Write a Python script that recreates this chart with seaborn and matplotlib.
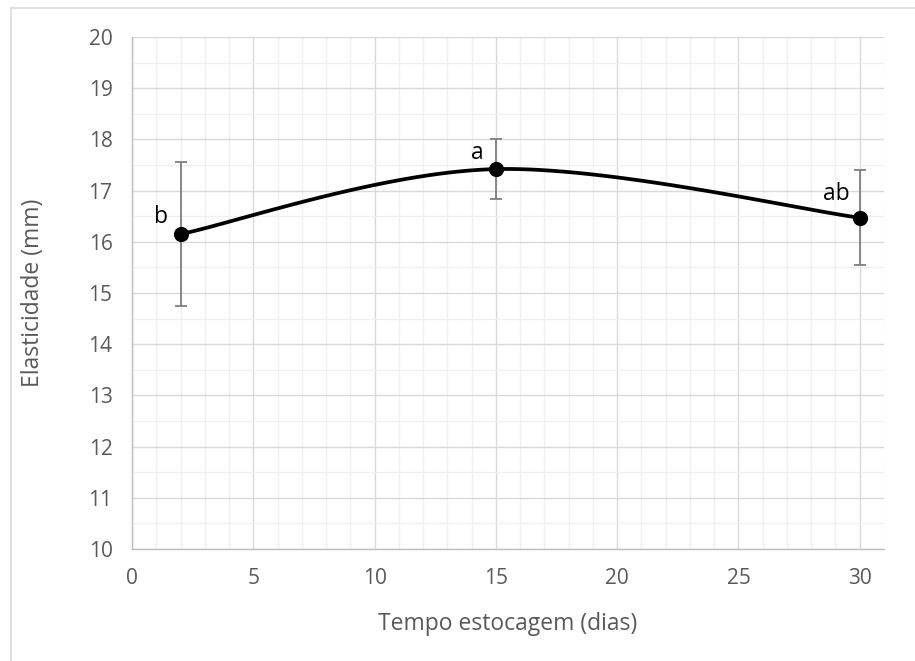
import numpy as np
import pandas as pd
import matplotlib
matplotlib.use("Agg")
import matplotlib.pyplot as plt
import seaborn as sns
from matplotlib.ticker import MultipleLocator
from matplotlib.lines import Line2D

# ---- data ----
days = [2, 15, 30]
elasticity = [16.15, 17.42, 16.47]
err_upper = [17.55, 18.01, 17.40]
err_lower = [14.75, 16.83, 15.55]
letters = ["b", "a", "ab"]
letter_offsets = [(-20, 17), (-19, 16), (-23, 24)]  # pixels

xlabel = "Tempo estocagem (dias)"
ylabel = "Elasticidade (mm)"

sns.set_theme(style="white")
plt.rcParams["font.family"] = ["Open Sans", "DejaVu Sans"]

fig = plt.figure(figsize=(9.15, 6.61), dpi=100)
ax = fig.add_axes([132/915, 1-549/661, (884-132)/915, (549-37)/661])

# Excel-style smoothed line (Catmull-Rom Bezier)
P = np.column_stack([days, elasticity]).astype(float)
n = len(P)
curve_x, curve_y = [], []
t = np.linspace(0, 1, 60)
for i in range(n - 1):
    p0 = P[max(i - 1, 0)]
    p1 = P[i]
    p2 = P[i + 1]
    p3 = P[min(i + 2, n - 1)]
    c1 = p1 + (p2 - p0) / 6
    c2 = p2 - (p3 - p1) / 6
    b = ((1 - t)**3)[:, None] * p1 + (3 * (1 - t)**2 * t)[:, None] * c1 \
        + (3 * (1 - t) * t**2)[:, None] * c2 + (t**3)[:, None] * p2
    curve_x.extend(b[:, 0])
    curve_y.extend(b[:, 1])
curve = pd.DataFrame({"x": curve_x, "y": curve_y})

df = pd.DataFrame({"dias": days, "elast": elasticity,
                   "lo": err_lower, "hi": err_upper})

yerr = np.array([df["elast"] - df["lo"], df["hi"] - df["elast"]])
ax.errorbar(df["dias"], df["elast"], yerr=yerr, fmt="none",
            ecolor="#7f7f7f", elinewidth=1.3, capsize=4.3, capthick=1.3, zorder=3)

sns.lineplot(data=curve, x="x", y="y", sort=False, color="black",
             linewidth=2.7, ax=ax, zorder=4)
sns.scatterplot(data=df, x="dias", y="elast", color="black", s=120,
                edgecolor="black", linewidth=0, ax=ax, zorder=5)

for xd, yd, lab, off in zip(days, elasticity, letters, letter_offsets):
    ax.annotate(lab, (xd, yd), xytext=off, textcoords="offset pixels",
                ha="center", va="center", fontsize=16.5, color="black")

ax.set_xlim(0, 31)
ax.set_ylim(10, 20)
ax.xaxis.set_major_locator(MultipleLocator(5))
ax.xaxis.set_minor_locator(MultipleLocator(1))
ax.yaxis.set_major_locator(MultipleLocator(1))
ax.yaxis.set_minor_locator(MultipleLocator(0.5))
ax.set_xticks([0, 5, 10, 15, 20, 25, 30])

ax.grid(which="major", color="#d9d9d9", linewidth=1.0)
ax.grid(which="minor", color="#f0f0f0", linewidth=1.0)
ax.set_axisbelow(True)

for s in ["top", "right"]:
    ax.spines[s].set_visible(False)
for s in ["left", "bottom"]:
    ax.spines[s].set_color("#bfbfbf")
    ax.spines[s].set_linewidth(1.0)

ax.tick_params(which="major", direction="out", length=5, width=1,
               color="#bfbfbf", labelcolor="#595959", labelsize=15, pad=9)
ax.tick_params(which="minor", length=0)

ax.set_xlabel(xlabel, fontsize=16.5, color="#595959", labelpad=16)
ax.set_ylabel(ylabel, fontsize=16.5, color="#595959", labelpad=31)

# chart-area border (left and top visible)
fig.add_artist(Line2D([11/915, 11/915], [0, 1-8/661], transform=fig.transFigure,
                      color="#d9d9d9", linewidth=1.2))
fig.add_artist(Line2D([11/915, 1], [1-8/661, 1-8/661], transform=fig.transFigure,
                      color="#d9d9d9", linewidth=1.2))

fig.savefig("out.png", dpi=100, facecolor="white")
